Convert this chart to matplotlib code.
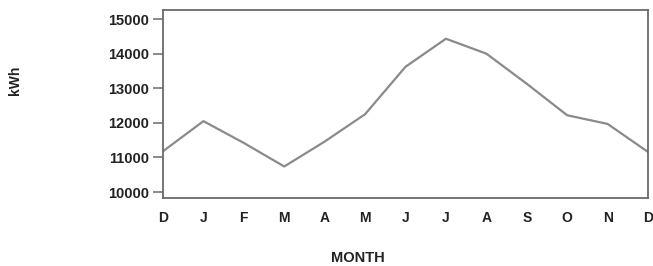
import matplotlib.pyplot as plt

plt.rcParams['font.family'] = ['Liberation Sans', 'DejaVu Sans']

# data
months = ['D', 'J', 'F', 'M', 'A', 'M', 'J', 'J', 'A', 'S', 'O', 'N', 'D']
kwh = [11180, 12050, 11420, 10740, 11460, 12250, 13620, 14430, 14000,
       13130, 12220, 11970, 11160]
y_ticks = [10000, 11000, 12000, 13000, 14000, 15000]

fig = plt.figure(figsize=(6.53, 2.66), dpi=100)
ax = fig.add_axes([163 / 653, 1 - 198 / 266, 485 / 653, 188 / 266])

x = list(range(len(months)))
ax.plot(x, kwh, color='#8a8a8a', linewidth=1.6)

ax.set_xlim(0, len(months) - 1)
ax.set_ylim(9830, 15260)

ax.set_yticks(y_ticks)
ax.set_yticklabels([str(v) for v in y_ticks], fontsize=10.5, fontweight='bold',
                   color='#222222')
ax.tick_params(axis='y', direction='out', length=7, width=1.2, color='#777777', pad=3)

ax.set_xticks(x)
ax.set_xticklabels(months, fontsize=10, fontweight='bold', color='#222222')
ax.tick_params(axis='x', length=0, pad=9)

for s in ax.spines.values():
    s.set_color('#6a6a6a')
    s.set_linewidth(1.3)

fig.text(15 / 653, 1 - 80 / 266, 'kWh', rotation=90, ha='center', va='center',
         fontsize=10, fontweight='bold', color='#222222')
fig.text(358 / 653, 1 - 258 / 266, 'MONTH', ha='center', va='center',
         fontsize=10.5, fontweight='bold', color='#222222')

fig.savefig('out.png', dpi=100, facecolor='white')
